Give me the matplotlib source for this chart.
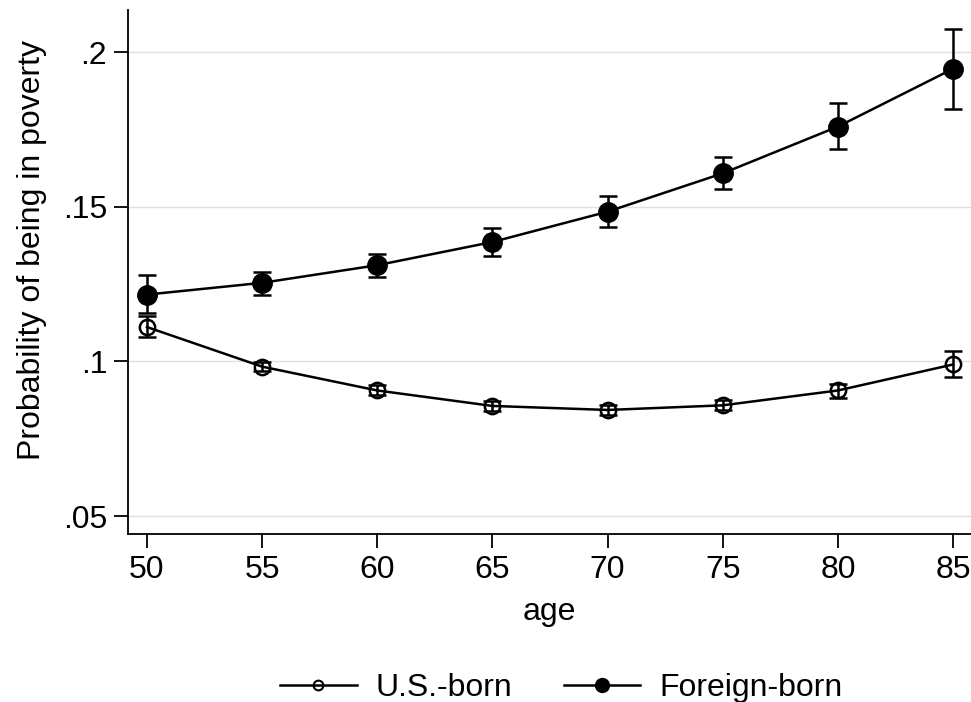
import numpy as np
import matplotlib.pyplot as plt
from matplotlib.lines import Line2D

plt.rcParams['font.family'] = ['Liberation Sans', 'DejaVu Sans']

ages = [50, 55, 60, 65, 70, 75, 80, 85]

us_born = [0.1111, 0.0983, 0.0906, 0.0856, 0.0843, 0.0858, 0.0906, 0.0990]
us_lo = [0.1078, 0.0968, 0.0890, 0.0840, 0.0828, 0.0842, 0.0883, 0.0949]
us_hi = [0.1148, 0.0998, 0.0923, 0.0873, 0.0858, 0.0875, 0.0928, 0.1032]

foreign_born = [0.1216, 0.1254, 0.1311, 0.1386, 0.1484, 0.1608, 0.1759, 0.1946]
fb_lo = [0.1156, 0.1216, 0.1272, 0.1341, 0.1435, 0.1556, 0.1687, 0.1817]
fb_hi = [0.1279, 0.1289, 0.1347, 0.1432, 0.1534, 0.1662, 0.1835, 0.2075]

yticks = [0.05, 0.10, 0.15, 0.20]
ytick_labels = ['.05', '.1', '.15', '.2']

fig = plt.figure(figsize=(9.71, 7.02), dpi=100)
ax = fig.add_axes([128 / 971, 1 - 534 / 702, 1 - 128 / 971, (534 - 10) / 702])

def err(vals, lo, hi):
    v = np.array(vals)
    return [v - np.array(lo), np.array(hi) - v]

ax.errorbar(ages, us_born, yerr=err(us_born, us_lo, us_hi), color='black',
            lw=1.8, marker='o', ms=11, mfc='none', mec='black', mew=1.8,
            ecolor='black', elinewidth=1.8, capsize=6.5, capthick=1.8, zorder=3)
ax.errorbar(ages, foreign_born, yerr=err(foreign_born, fb_lo, fb_hi), color='black',
            lw=1.8, marker='o', ms=14, mfc='black', mec='black',
            ecolor='black', elinewidth=1.8, capsize=6.5, capthick=1.8, zorder=3)

ax.set_xlim(49.175, 85.78)
ax.set_ylim(0.0442, 0.2136)
ax.set_xticks(ages)
ax.set_yticks(yticks)
ax.set_yticklabels(ytick_labels)
ax.yaxis.grid(True, color='#e0e0e0', lw=1)
ax.set_axisbelow(True)

for s in ['top', 'right']:
    ax.spines[s].set_visible(False)
for s in ['left', 'bottom']:
    ax.spines[s].set_linewidth(1.3)
ax.tick_params(axis='both', direction='out', length=10, width=1.3, labelsize=23, pad=5)

ax.set_xlabel('age', fontsize=23, labelpad=9)
ax.set_ylabel('Probability of being in poverty', fontsize=23)
ax.yaxis.set_label_coords(-0.096, 0.542)

handles = [
    Line2D([], [], color='black', lw=1.8, marker='o', ms=7, mfc='none', mec='black', mew=1.5),
    Line2D([], [], color='black', lw=1.8, marker='o', ms=10, mfc='black', mec='black'),
]
labels = ['U.S.-born', 'Foreign-born']
fig.legend(handles, labels, loc='center', bbox_to_anchor=(0.578, 1 - 688 / 702),
           ncol=2, frameon=False, fontsize=23, handlelength=2.4,
           columnspacing=1.6, handletextpad=0.6)

fig.savefig('out.png', dpi=100)
